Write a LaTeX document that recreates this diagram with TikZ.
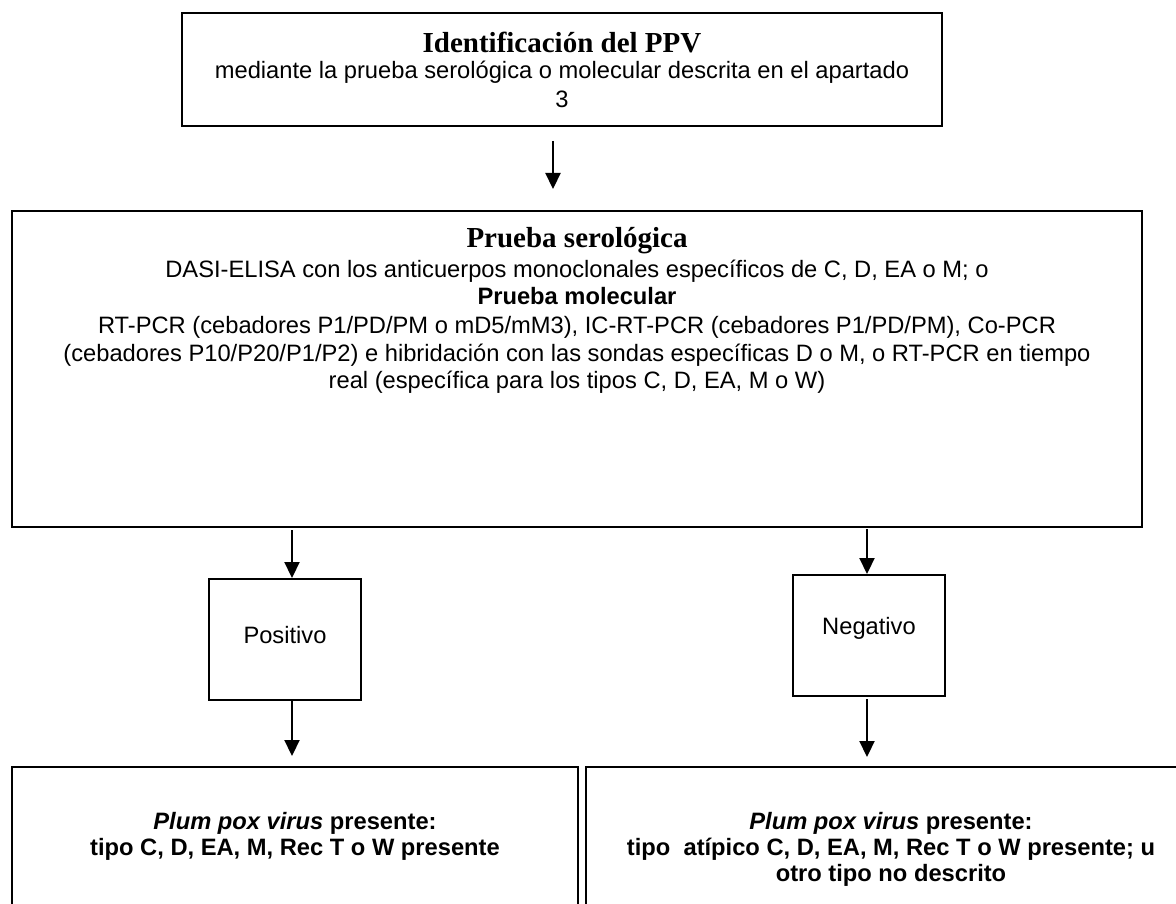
\documentclass[tikz,border=0pt]{standalone}
\usepackage{fontspec}
\setmainfont{Liberation Sans}
\newfontfamily\myserif{Liberation Serif}
\usetikzlibrary{arrows.meta,calc}
\newcommand\myBody{\fontsize{23.7}{27}\selectfont}
\newcommand\myTitle{\myserif\bfseries\fontsize{29}{32}\selectfont}
\tikzset{
  boxnode/.style={draw=black,line width=2pt,inner sep=0pt,rectangle},
  txt/.style={inner sep=0pt,anchor=base,font=\myBody},
  ttl/.style={inner sep=0pt,anchor=base,font=\myTitle},
  arr/.style={line width=2.2pt,-{Triangle[width=15pt,length=16pt]}}
}
\begin{document}
\begin{tikzpicture}[x=1pt,y=-1pt]
\useasboundingbox (0,0) rectangle (1176,904);
\fill[white] (0,0) rectangle (1176,904);
\begin{scope}
\clip (0,0) rectangle (1176,904);
% boxes
\node[boxnode,minimum width=760pt,minimum height=113pt] (topbox) at (562,69.5) {};
\node[boxnode,minimum width=1130.5pt,minimum height=316pt] (probox) at (576.75,369) {};
\node[boxnode,minimum width=152pt,minimum height=121pt] (posbox) at (285,639.5) {};
\node[boxnode,minimum width=152pt,minimum height=121pt] (negbox) at (869,635.5) {};
\node[boxnode,minimum width=566.5pt,minimum height=183pt] (leftres) at (294.75,858.5) {};
\node[boxnode,minimum width=614pt,minimum height=183pt] (rightres) at (893,858.5) {};
% texts
\node[ttl] (t1) at (562,53) {Identificación del PPV};
\node[txt] (t2) at (562,79) {mediante la prueba serológica o molecular descrita en el apartado};
\node[txt] (t3) at (562,108) {3};
\node[ttl] (p1) at (577,248) {Prueba serológica};
\node[txt] (p2) at (577,278) {DASI-ELISA con los anticuerpos monoclonales específicos de C, D, EA o M; o};
\node[txt] (p3) at (577,305) {\bfseries Prueba molecular};
\node[txt] (p4) at (577,334) {RT-PCR (cebadores P1/PD/PM o mD5/mM3), IC-RT-PCR (cebadores P1/PD/PM), Co-PCR};
\node[txt] (p5) at (577,361) {(cebadores P10/P20/P1/P2) e hibridación con las sondas específicas D o M, o RT-PCR en tiempo};
\node[txt] (p6) at (577,388) {real (específica para los tipos C, D, EA, M o W)};
\node[txt] (pos) at (285,643) {Positivo};
\node[txt] (neg) at (869,634) {Negativo};
\node[txt] (l1) at (295,829) {\bfseries\itshape Plum pox virus\upshape\ presente:};
\node[txt] (l2) at (295,855) {\bfseries tipo C, D, EA, M, Rec T o W presente};
\node[txt] (r1) at (891,829) {\bfseries\itshape Plum pox virus\upshape\ presente:};
\node[txt] (r2) at (891,855) {\bfseries tipo\ \ atípico C, D, EA, M, Rec T o W presente; u};
\node[txt] (r3) at (891,881) {\bfseries otro tipo no descrito};
% arrows
\coordinate (ax2) at (292,0);
\coordinate (ax3) at (867,0);
\draw[arr] (topbox.south) ++(-9,14) -- ++(0,48);
\draw[arr] ([yshift=-2pt]probox.south -| ax2) -- (posbox.north -| ax2);
\draw[arr] (posbox.south -| ax2) -- ([yshift=10pt]leftres.north -| ax2);
\draw[arr] ([yshift=-1pt]probox.south -| ax3) -- (negbox.north -| ax3);
\draw[arr] ([yshift=-2pt]negbox.south -| ax3) -- ([yshift=9pt]rightres.north -| ax3);
\end{scope}
\end{tikzpicture}
\end{document}
